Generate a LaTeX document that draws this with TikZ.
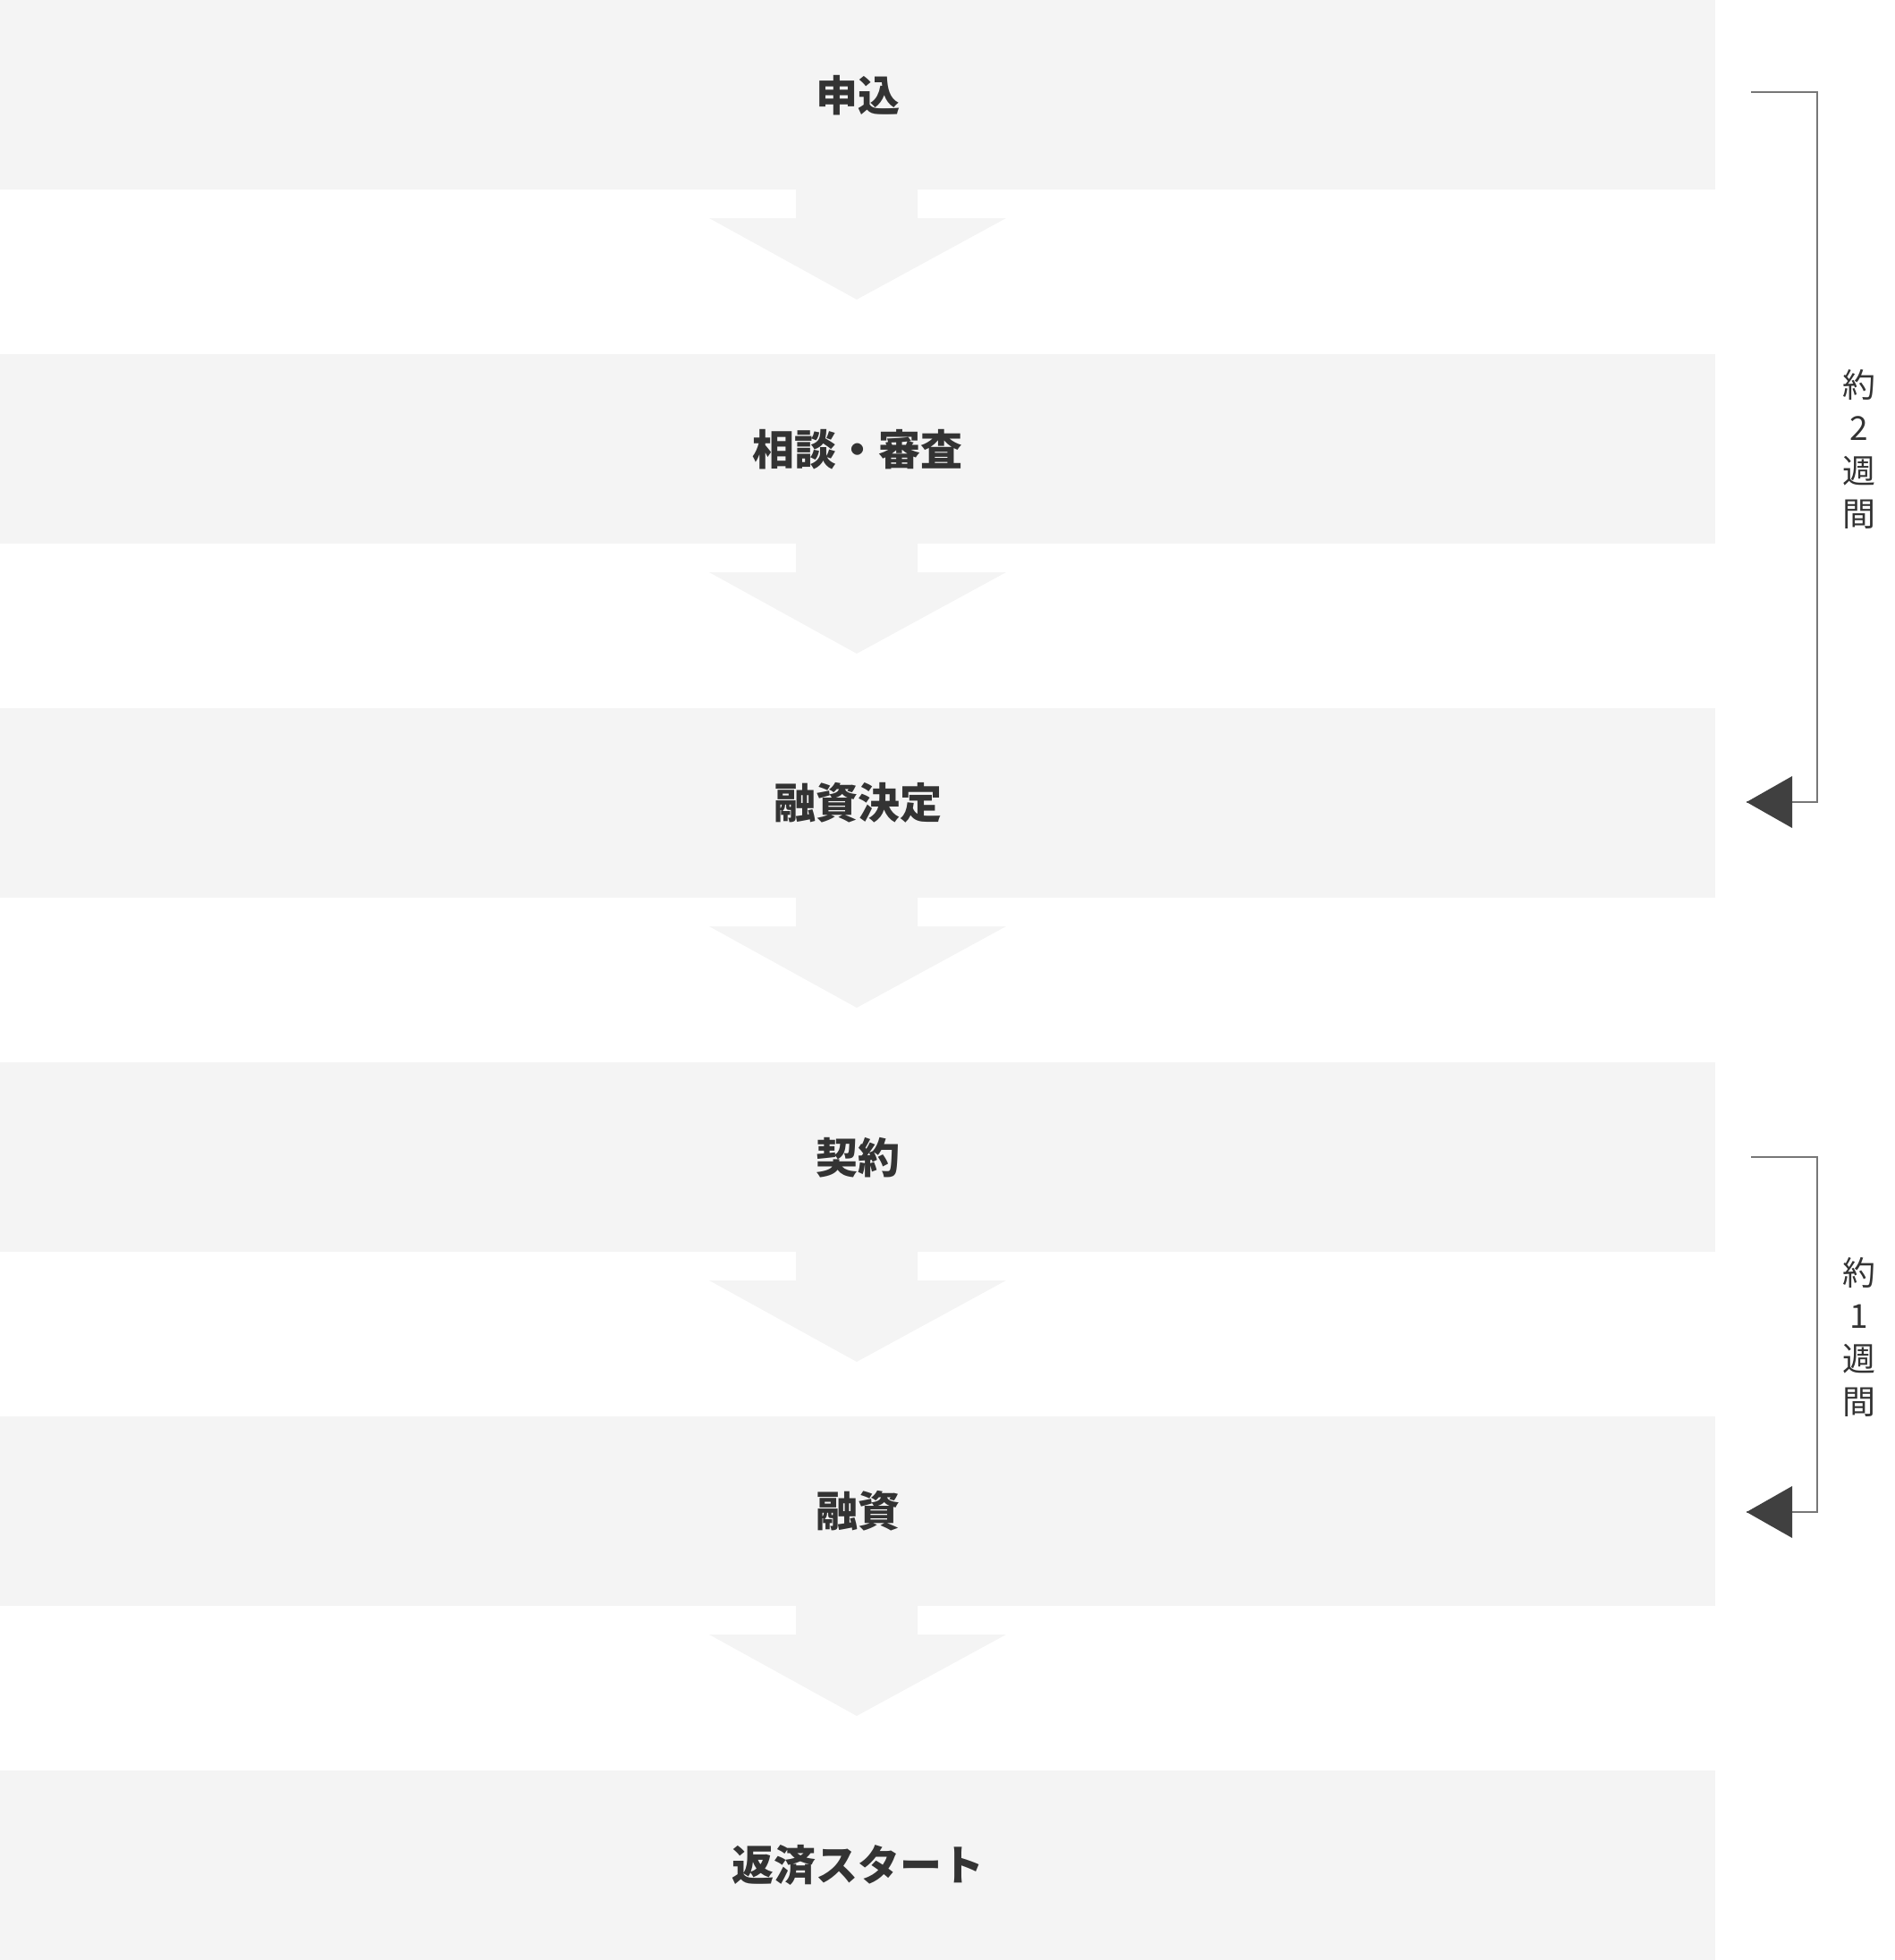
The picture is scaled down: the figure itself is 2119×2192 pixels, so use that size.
\documentclass[tikz,border=0pt]{standalone}
\usepackage{fontspec}
\setmainfont{Noto Sans CJK JP}
\usepackage{tikz}
\usetikzlibrary{positioning}
\definecolor{boxGrey}{HTML}{F4F4F4}
\definecolor{textDark}{HTML}{333333}
\definecolor{lineGrey}{HTML}{777777}
\definecolor{tipDark}{HTML}{404040}

\begin{document}
\begin{tikzpicture}[x=1pt, y=-1pt,
    stepBox/.style={rectangle, fill=boxGrey, minimum width=1918pt, minimum height=212pt, inner sep=0pt, anchor=north west, text=textDark, font=\fontsize{47}{52}\selectfont\bfseries},
    flowArrow/.style={fill=boxGrey},
    bracket/.style={draw=lineGrey, line width=1.6pt},
    spanTip/.style={fill=tipDark},
    spanLabel/.style={align=center, text=textDark, font=\fontsize{37}{48}\selectfont}
]
    \useasboundingbox (0,0) rectangle (2119,2192);

    % boxes
    \node[stepBox] (apply) at (0,0) {申込};
    \node[stepBox] (review) at (0,396) {相談・審査};
    \node[stepBox] (decide) at (0,792) {融資決定};
    \node[stepBox] (contract) at (0,1188) {契約};
    \node[stepBox] (loan) at (0,1584) {融資};
    \node[stepBox] (repay) at (0,1980) {返済スタート};

    % arrows
    \foreach \k in {0,...,4} {
        \fill[flowArrow] (890,212+396*\k) -- (1026,212+396*\k) -- (1026,244+396*\k) -- (1125,244+396*\k)
            -- (958,335+396*\k) -- (793,244+396*\k) -- (890,244+396*\k) -- cycle;
    }

    % 約2週間
    \coordinate (twoTop) at (1958,103);
    \coordinate (twoEnd) at (1953,897);
    \draw[bracket] (twoTop) -| (2032,897) -- (twoEnd);
    \fill[spanTip] (twoEnd) -- ++(51,-29) -- ++(0,58) -- cycle;
    \node[spanLabel] (twoWeeks) at (2079,502) {約\\2\\週\\間};

    % 約1週間
    \coordinate (oneTop) at (1958,1294);
    \coordinate (oneEnd) at (1953,1691);
    \draw[bracket] (oneTop) -| (2032,1691) -- (oneEnd);
    \fill[spanTip] (oneEnd) -- ++(51,-29) -- ++(0,58) -- cycle;
    \node[spanLabel] (oneWeek) at (2079,1495) {約\\1\\週\\間};
\end{tikzpicture}
\end{document}
